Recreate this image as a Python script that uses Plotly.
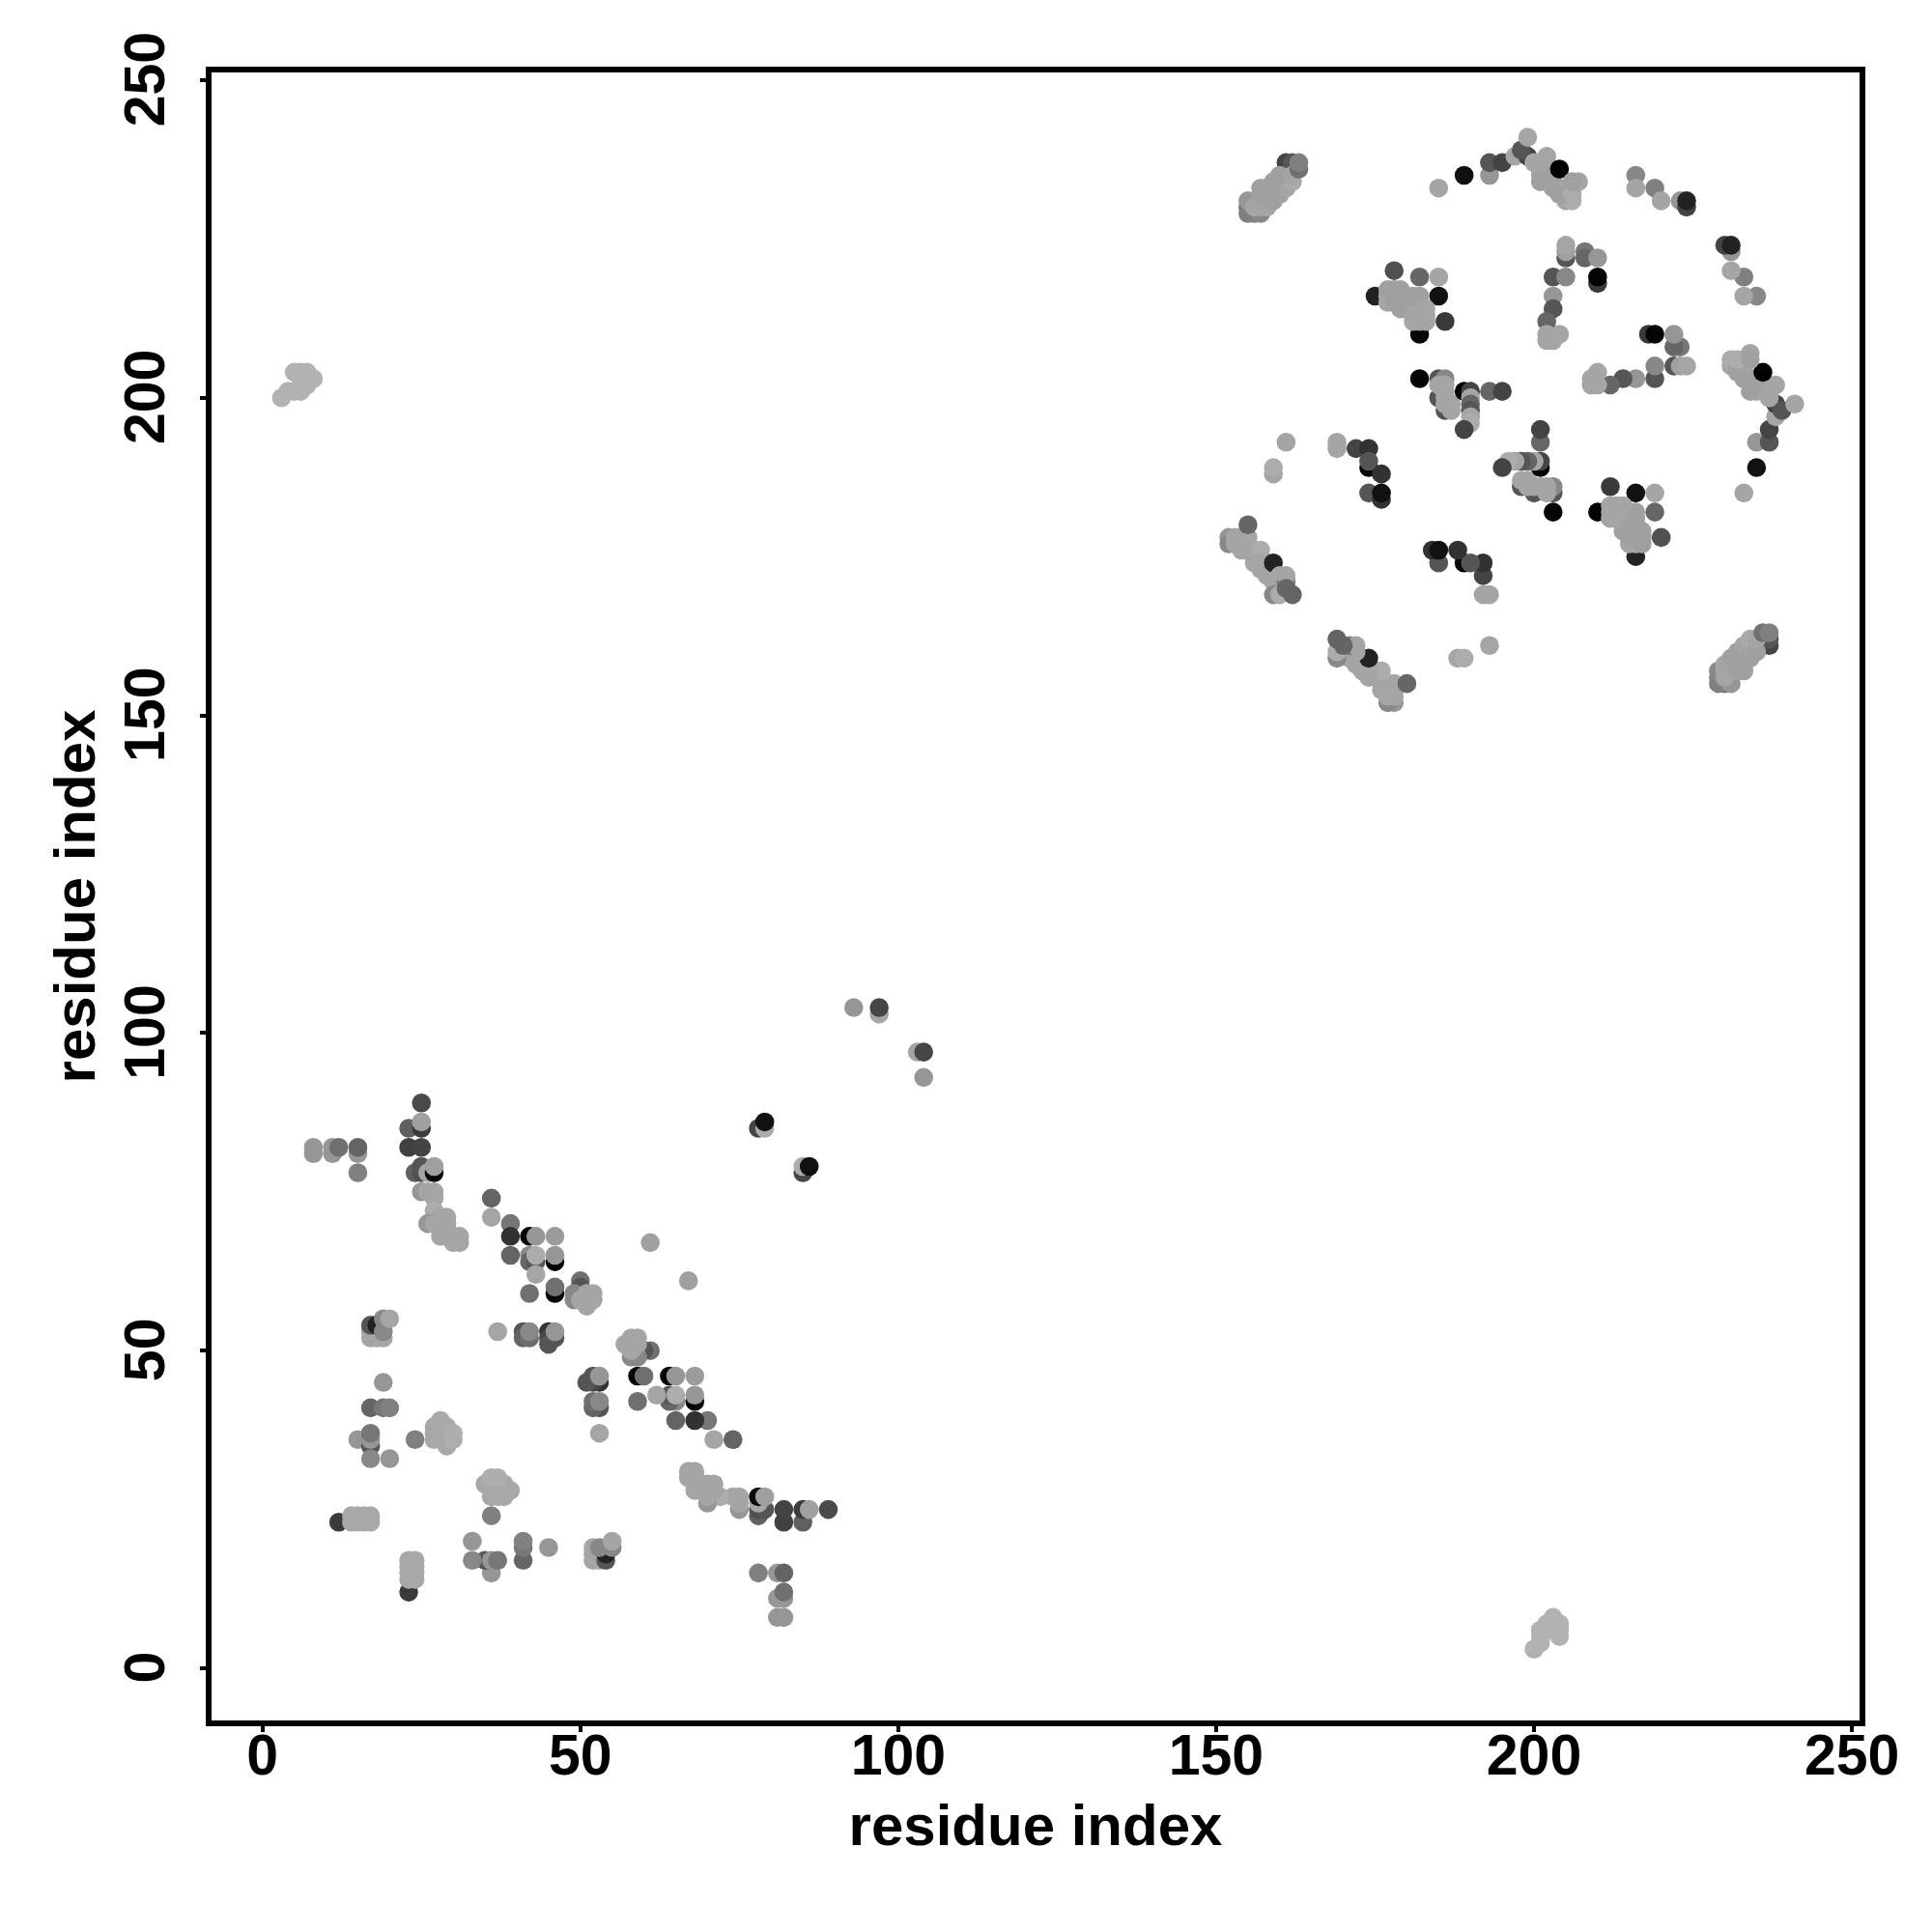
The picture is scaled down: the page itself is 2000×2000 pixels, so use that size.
import plotly.graph_objects as go

# contacts (residue i, residue j, shade 0-255); each contact is shown at (i,j) and (j,i)
sheet_low = [
 (8,82,150),(8,81,150),(11,81,150),(11,82,150),(12,82,112),(15,81,150),(15,82,100),(15,78,128),
 (23,85,96),(25,85,60),(25,86,160),(25,89,74),(23,82,64),(25,82,68),
 (24,78,96),(25,78,80),(25,79,85),(26,78,165),(27,78,10),(27,79,160),
 (25,75,150),(26,75,165),(27,75,165),(27,74,165),(27,72,172),(26,70,150),(27,70,165),
 (28,71,165),(29,71,165),(28,70,165),(29,70,165),(28,69,165),(29,69,165),(28,68,165),(29,68,165),
 (30,68,165),(31,68,165),(30,67,165),(31,67,165),
]
sheet_mid = [
 (36,74,100),(36,71,165),(39,70,119),(39,68,50),(39,65,100),(42,68,5),(43,68,150),(46,64,5),(46,68,155),
 (46,65,150),(42,65,136),(42,64,102),(43,64,85),(43,65,172),(43,62,165),(42,59,112),(46,59,5),(46,60,112),
 (50,61,112),(50,60,85),(49,59,136),(49,58,136),(50,58,165),(51,59,165),(52,59,165),(52,58,165),(51,58,165),(51,57,165),
 (37,53,165),(41,53,85),(41,52,100),(42,52,110),(42,53,136),(45,53,50),(45,52,70),(45,51,85),(46,52,85),(46,53,150),
 (61,67,160),(78,85,70),(79,85,172),(79,86,17),(93,104,150),(97,103,165),(97,104,70),
]
strand_n = [
 (17,52,165),(18,52,165),(19,52,165),(17,53,165),(17,54,85),(18,54,34),(19,53,136),(19,55,136),(20,55,165),
 (19,45,150),(17,41,102),(19,41,119),(20,41,128),(15,36,150),(17,35,85),(17,36,150),(17,37,119),(17,33,136),(20,33,150),
 (24,36,128),(27,38,168),(27,37,168),(27,36,168),(28,39,168),(28,38,168),(28,37,168),(28,36,168),(29,38,168),(29,37,168),
 (29,36,168),(29,35,168),(30,37,174),(30,36,174),
 (12,23,58),(14,24,168),(14,23,168),(15,24,168),(15,23,168),(16,24,168),(16,23,168),(17,24,168),(17,23,168),
 (3,200,178),(4,201,178),(5,201,178),(6,201,178),(6,202,178),(7,202,178),(6,203,178),(7,203,178),(5,204,178),(6,204,178),(7,204,178),(8,203,178),
]
barrel_outer = [
 (161,237,68),(162,237,85),(155,230,119),(155,229,128),(156,229,128),(157,229,136),(155,231,150),
 (156,230,165),(157,230,165),(157,231,165),(158,230,165),(158,231,165),(159,231,160),(157,232,160),(158,232,160),(159,232,160),
 (160,232,160),(157,233,160),(158,233,160),(159,233,160),(160,233,160),(161,233,165),(159,234,160),(160,234,160),(161,234,165),
 (162,234,170),(160,235,160),(162,235,165),(163,236,112),(163,237,128),
 (185,233,165),(189,235,17),(193,235,150),(193,237,85),(195,237,68),
 (197,238,165),(199,238,68),(198,239,85),(199,241,165),(200,237,165),(201,237,165),(202,238,165),(201,236,165),(201,235,165),
 (202,236,165),(202,235,165),(201,234,160),(202,234,160),(203,233,160),(203,234,160),(203,235,160),(204,236,0),(204,233,160),(205,233,165),(206,233,172),(205,231,165),
 (206,231,172),(204,232,160),(205,232,160),(206,232,172),(207,234,165),(206,234,160),
 (216,235,136),(216,233,165),(219,233,128),(220,231,165),(223,231,150),(224,230,68),(224,231,34),
]
barrel_inner = [
 (175,216,34),(178,220,80),(182,219,102),(185,219,165),(185,216,17),(186,212,58),(182,210,5),
 (177,215,165),(177,216,165),(177,217,160),(178,215,160),(178,217,160),(178,216,160),(179,217,160),(179,216,160),(179,215,160),(179,214,160),(180,215,160),(180,216,160),(180,214,160),(181,215,160),(181,216,160),(182,216,160),(182,215,160),
 (181,214,160),(182,214,160),(182,213,165),(181,213,165),(182,212,165),(183,212,165),(183,213,165),(183,214,165),(181,212,165),
 (205,222,85),(205,223,160),(205,224,165),(208,223,119),(208,222,102),(210,222,150),(210,218,58),(210,219,5),
 (203,219,85),(205,219,136),(203,216,150),(203,214,85),(202,212,102),(202,209,165),(203,209,165),(202,210,165),(204,210,165),
 (182,203,5),(185,203,85),(186,198,85),(185,200,85),(186,203,136),(185,202,165),(186,202,165),(186,201,165),(186,200,165),
 (186,199,165),(187,199,165),(187,198,165),
 (189,201,5),(190,201,68),(193,201,102),(195,201,68),(190,200,165),(190,199,100),(190,198,85),(190,197,165),(190,196,172),(189,195,68),
 (161,193,165),(169,193,165),(169,192,165),(172,192,68),(174,192,50),(174,189,5),(174,190,85),(176,188,50),(174,185,85),
 (176,184,50),(176,185,17),(159,188,165),(159,189,172),
 (152,178,150),(152,177,136),(153,178,165),(153,177,165),(154,178,165),(155,178,165),(155,177,165),(154,176,165),(155,176,165),
 (156,176,165),(156,175,165),(157,175,165),(157,176,172),(156,174,165),(157,174,165),(158,174,165),(157,173,165),(158,173,165),
 (158,172,165),(159,172,165),(159,171,165),(160,171,165),(160,170,165),(159,169,136),(160,169,172),
 (155,180,102),(159,174,34),(160,172,165),(161,171,119),(161,172,165),(161,170,102),(162,169,100),
]

contacts = sheet_low + sheet_mid + strand_n + barrel_outer + barrel_inner
residue_a = [c[0] for c in contacts] + [c[1] for c in contacts]
residue_b = [c[1] for c in contacts] + [c[0] for c in contacts]
shade = [c[2] for c in contacts] * 2

tick_vals = [0, 50, 100, 150, 200, 250]

fig = go.Figure(go.Scatter(
    x=residue_a, y=residue_b, mode="markers",
    marker=dict(size=19.6, color=shade, cmin=0, cmax=255,
                colorscale=[[0, "#000000"], [1, "#ffffff"]], showscale=False, line=dict(width=0)),
    hoverinfo="skip"))

axis = dict(tickvals=tick_vals, ticks="outside", ticklen=6, tickwidth=4, tickcolor="black",
            showline=True, linewidth=6, linecolor="black", mirror=True,
            showgrid=False, zeroline=False,
            tickfont=dict(family="Liberation Sans", size=59, color="black", weight="bold"))
fig.update_layout(
    width=2000, height=2000, paper_bgcolor="white", plot_bgcolor="white",
    margin=dict(l=211, r=83, t=67, b=227, autoexpand=False),
    showlegend=False,
    xaxis=dict(axis, range=[-8.01, 251.2], ticklabelstandoff=-27,
               title=dict(text="<b>residue index</b>", standoff=21,
                          font=dict(family="Liberation Sans", size=60, color="black"))),
    yaxis=dict(axis, range=[-8.21, 251.2], tickangle=-90, ticklabelstandoff=13, ticklabelshift=8,
               title=dict(text="<b>residue index</b>", standoff=1,
                          font=dict(family="Liberation Sans", size=60, color="black"))),
)
fig.write_html("out.html")
